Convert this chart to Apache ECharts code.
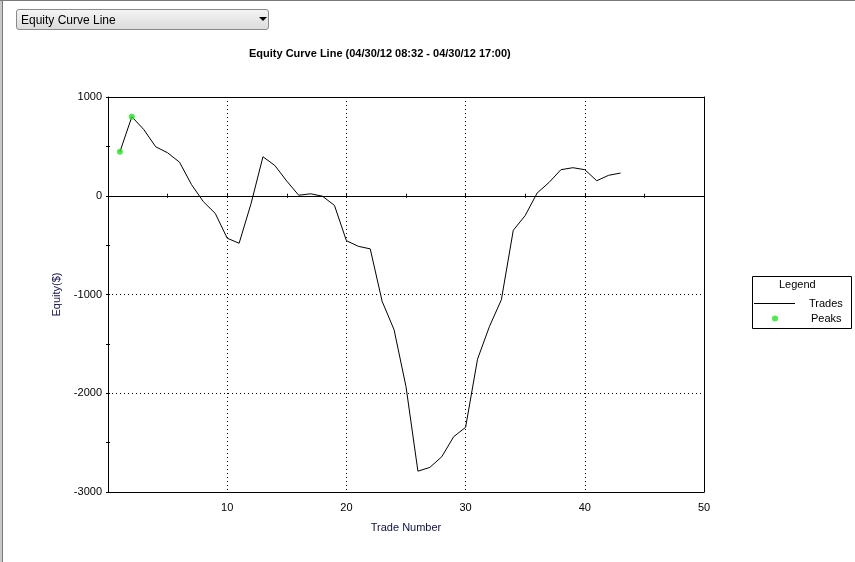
<!DOCTYPE html>
<html>
<head>
<meta charset="utf-8">
<script src="https://cdn.jsdelivr.net/npm/echarts@6/dist/echarts.min.js"></script>
<style>
  html, body { margin:0; padding:0; background:#fff; }
  #frame { position:absolute; left:0; top:0; width:855px; height:562px; overflow:hidden; }
  #edgeL { position:absolute; left:0; top:0; width:2px; height:562px; background:#c8c8c8; }
  #edgeL2 { position:absolute; left:2px; top:0; width:1px; height:562px; background:#7a7a7a; }
  #edgeT { position:absolute; left:0; top:0; width:855px; height:1px; background:#7a7a7a; }
  #chart { position:absolute; left:0; top:0; width:855px; height:562px; }
  #dd { position:absolute; left:16px; top:9px; width:251px; height:19px; border:1px solid #8a8a8a; border-radius:3px;
        background:linear-gradient(#f4f4f4,#dcdcdc); font:12px "Liberation Sans", Arial, sans-serif; color:#000; }
  #dd span { position:absolute; left:4px; top:3px; }
  #dd i { position:absolute; left:242px; top:7px; width:0; height:0; border-left:4px solid transparent; border-right:4px solid transparent; border-top:4px solid #000; }
</style>
</head>
<body>
<div id="frame">
  <div id="chart"></div>
  <div id="edgeL"></div><div id="edgeL2"></div><div id="edgeT"></div>
  <div id="dd"><span>Equity Curve Line</span><i></i></div>
</div>
<script>
const tradeNumbers = [1,2,3,4,5,6,7,8,9,10,11,12,13,14,15,16,17,18,19,20,21,22,23,24,25,26,27,28,29,30,31,32,33,34,35,36,37,38,39,40,41,42,43];
const equity = [445,800,671,496,435,340,114,-60,-179,-430,-481,-80,395,306,148,5,20,-5,-98,-455,-512,-538,-1070,-1357,-1933,-2789,-2751,-2643,-2440,-2345,-1655,-1324,-1053,-350,-200,27,135,264,284,264,152,207,230];
const peakTrades = [1,2];
const peakValues = [445,800];
const xTickLabels = ['10','20','30','40','50'];
const yTickLabels = ['1000','0','-1000','-2000','-3000'];

const font = '"Liberation Sans", Arial, sans-serif';
const navy = '#10104a';
const chart = echarts.init(document.getElementById('chart'), null, {renderer:'canvas'});
const base = {min:0, max:50, type:'value'};
const yBase = {type:'value', min:-3000, max:1000};
chart.setOption({
  animation:false,
  title:{text:'Equity Curve Line (04/30/12 08:32 - 04/30/12 17:00)', left:249, top:48, padding:0,
    textStyle:{fontFamily:font, fontSize:11, fontWeight:'bold', color:'#000'}},
  grid:{left:108, top:97, right:151, bottom:70, show:false},
  xAxis:[
    Object.assign({}, base, {interval:10, position:'bottom', name:'Trade Number', nameLocation:'middle', nameGap:30,
      nameTextStyle:{fontFamily:font, fontSize:11, color:navy},
      axisLine:{onZero:false, lineStyle:{color:'#000', width:1}}, axisTick:{show:false},
      axisLabel:{margin:10, fontFamily:font, fontSize:11, color:'#000',
        formatter:v => xTickLabels.includes(String(v)) ? String(v) : ''},
      splitLine:{show:true, lineStyle:{color:'#000', width:1, type:[1,3]}}}),
    Object.assign({}, base, {interval:5, position:'bottom',
      axisLine:{onZero:true, onZeroAxisIndex:0, lineStyle:{color:'#000', width:1}},
      axisTick:{show:true, length:2, lineStyle:{color:'#000'}}, axisLabel:{show:false}, splitLine:{show:false}}),
    Object.assign({}, base, {interval:5, position:'bottom',
      axisLine:{show:false, onZero:true, onZeroAxisIndex:0},
      axisTick:{show:true, inside:true, length:2, lineStyle:{color:'#000'}}, axisLabel:{show:false}, splitLine:{show:false}}),
    Object.assign({}, base, {interval:10, position:'top',
      axisLine:{show:true, onZero:false, lineStyle:{color:'#000', width:1}},
      axisTick:{show:false}, axisLabel:{show:false}, splitLine:{show:false}})
  ],
  yAxis:[
    Object.assign({}, yBase, {interval:500, name:'Equity($)', nameLocation:'middle', nameGap:31,
      nameTextStyle:{fontFamily:font, fontSize:11, color:navy},
      axisLine:{show:true, onZero:false, lineStyle:{color:'#000', width:1}},
      axisTick:{show:true, length:2, lineStyle:{color:'#000'}},
      axisLabel:{margin:6, fontFamily:font, fontSize:11, color:'#000',
        formatter:v => yTickLabels.includes(String(v)) ? String(v) : ''},
      splitLine:{show:false}}),
    Object.assign({}, yBase, {interval:1000, position:'left',
      axisLine:{show:false, onZero:false}, axisTick:{show:false}, axisLabel:{show:false},
      splitLine:{show:true, lineStyle:{color:'#000', width:1, type:[1,3]}}}),
    Object.assign({}, yBase, {interval:500, position:'left',
      axisLine:{show:false, onZero:false}, axisTick:{show:true, inside:true, length:2, lineStyle:{color:'#000'}},
      axisLabel:{show:false}, splitLine:{show:false}}),
    Object.assign({}, yBase, {interval:1000, position:'right',
      axisLine:{show:true, onZero:false, lineStyle:{color:'#000', width:1}},
      axisTick:{show:false}, axisLabel:{show:false}, splitLine:{show:false}})
  ],
  legend:[
    {data:[{name:'Trades', icon:'rect'}], left:754, top:298, orient:'vertical', itemWidth:41, itemHeight:1, selectedMode:false, padding:0,
      textStyle:{fontFamily:font, fontSize:11, color:'#000', padding:[0,0,0,9]}},
    {data:[{name:'Peaks', icon:'circle'}], left:772, top:313, orient:'vertical', itemWidth:6, itemHeight:6, selectedMode:false, padding:0,
      textStyle:{fontFamily:font, fontSize:11, color:'#000', padding:[0,0,0,28]}}
  ],
  graphic:[
    {type:'rect', left:752, top:276, z:-1, shape:{width:99, height:52}, style:{fill:'#fff', stroke:'#000', lineWidth:1}},
    {type:'text', left:779, top:279, style:{text:'Legend', font:'11px ' + font, fill:'#000'}}
  ],
  series:[
    {name:'Trades', type:'line', xAxisIndex:0, yAxisIndex:0, symbol:'none', lineStyle:{color:'#000', width:1}, itemStyle:{color:'#000'},
      data:tradeNumbers.map((t,i) => [t, equity[i]]), z:3},
    {name:'Peaks', type:'scatter', xAxisIndex:0, yAxisIndex:0, symbol:'circle', symbolSize:6, itemStyle:{color:'#1ee61e'},
      data:peakTrades.map((t,i) => [t, peakValues[i]]), z:4}
  ]
});
</script>
</body>
</html>
